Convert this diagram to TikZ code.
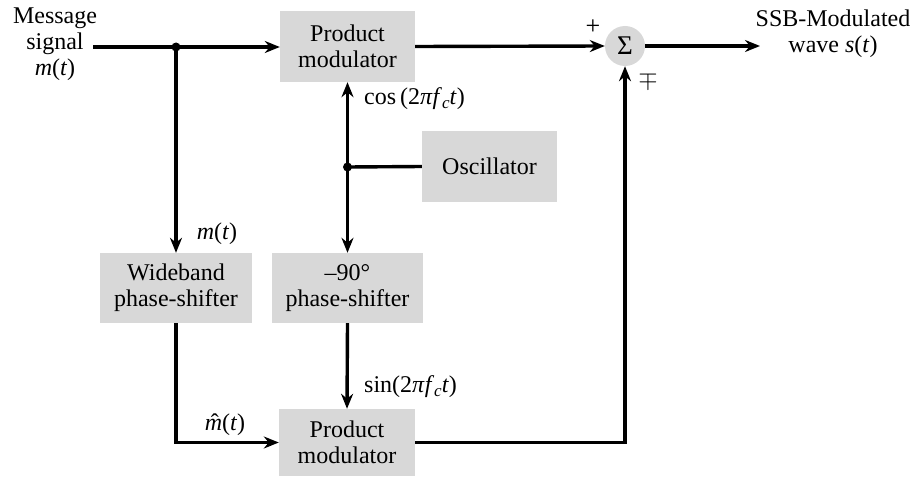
\documentclass[tikz,border=0pt]{standalone}
\usepackage{fontspec}
\setmainfont{Liberation Serif}
\usetikzlibrary{arrows.meta}
\definecolor{boxgray}{RGB}{216,216,216}
\newcommand{\fcsub}{\textit{f}\raisebox{-0.35ex}{\fontsize{17}{17}\selectfont\textit{c}}}
\newcommand{\mhat}{\ooalign{\textit{m}\cr\hidewidth\kern0.12em\symbol{"02C6}\hidewidth\cr}}
\begin{document}
\begin{tikzpicture}[x=1pt,y=-1pt,
 blk/.style={fill=boxgray, draw=none, align=center, inner sep=0pt, font=\fontsize{24}{26}\selectfont},
 lbl/.style={font=\fontsize{24}{26}\selectfont, inner sep=0pt},
 wire/.style={line width=3.4pt},
 arr/.style={wire,-{Stealth[length=15pt,width=12pt]}},
 dot/.style={circle, fill=black, inner sep=0pt, minimum size=9pt}
]
\useasboundingbox (0,0) rectangle (917,476);
\node[blk, minimum width=135pt, minimum height=71pt] (pm1) at (347.5,46.5) {Product\\modulator};
\node[blk, minimum width=135pt, minimum height=71pt] (osc) at (489.5,166.5) {Oscillator};
\node[blk, minimum width=152pt, minimum height=70pt] (wb) at (176,288) {Wideband\\phase-shifter};
\node[blk, minimum width=151pt, minimum height=70pt] (ps) at (347.5,288) {–90°\\phase-shifter};
\node[blk, minimum width=136pt, minimum height=67pt] (pm2) at (347,442.5) {Product\\modulator};
\node[circle, fill=boxgray, minimum size=40pt, inner sep=0pt, font=\fontsize{27}{27}\selectfont] (sum) at (625,46) {Σ};

\coordinate (in) at (93,47);
\coordinate (j1) at (176,47);
\coordinate (j2) at (347.5,167);
\coordinate (out) at (760,46);

\draw[arr] (in) -- (in -| pm1.west);
\draw[arr] (j1) -- (wb.north);
\draw[arr] (wb.south) |- (pm2.west);
\draw[wire] (osc.west) -- (j2);
\draw[arr] (j2) -- (pm1.south);
\draw[arr] (j2) -- (ps.north);
\draw[arr] (ps.south) -- (pm2.north);
\draw[arr] (pm1.east) -- (sum.west);
\draw[arr] (pm2.east) -| (sum.south);
\draw[arr] (sum.east) -- (out);
\node[dot] at (j1) {};
\node[dot] at (j2) {};

\node[lbl, align=center] (msg) at (55,44) {Message\\signal\\\textit{m}(\textit{t})};
\node[lbl, align=center] (ssb) at (833,34) {SSB-Modulated\\wave \textit{s}(\textit{t})};
\node[lbl, font=\fontsize{26}{26}\selectfont] (plus) at (593,27) {+};
\node[lbl, font=\fontsize{30}{30}\selectfont] (mp) at (648,80) {$\mp$};
\node[lbl] (mt) at (217,234) {\textit{m}(\textit{t})};
\node[lbl] (mh) at (225,425) {\mhat(\textit{t})};
\node[lbl, anchor=west] (cos) at (364,99) {cos\,(2\textit{π}\fcsub\textit{t})};
\node[lbl, anchor=west] (sin) at (364,387) {sin(2\textit{π}\fcsub\textit{t})};
\end{tikzpicture}
\end{document}
